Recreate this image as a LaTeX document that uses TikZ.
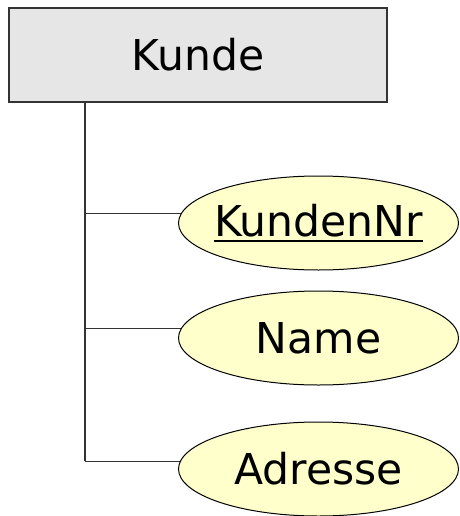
\documentclass[tikz,border=0pt]{standalone}
\usepackage{fontspec}
\setmainfont{DejaVu Sans}
\usetikzlibrary{shapes.geometric,backgrounds}
\definecolor{entityfill}{HTML}{E6E6E6}
\definecolor{attrfill}{HTML}{FFFFCC}
\definecolor{linegray}{HTML}{333333}
\newcommand\keyul[1]{\setbox0\hbox{#1}\rlap{\rule[-4.8pt]{\wd0}{1.8pt}}\box0}
\tikzset{every node/.style={font=\fontsize{42.5}{50}\selectfont},line cap=round,line join=round,
  entity/.style={draw=linegray,line width=1.5pt,fill=entityfill,minimum width=378pt,minimum height=94pt,inner sep=0pt},
  attr/.style={ellipse,draw=black,line width=1pt,fill=attrfill,minimum width=280pt,minimum height=94pt,inner sep=0pt},
  link/.style={draw=linegray,line width=1pt}}

\begin{document}
\begin{tikzpicture}[x=1pt,y=-1pt]
  \path[use as bounding box] (0,0) rectangle (459,516);
  \node[entity] (kunde) at (198,55) {Kunde};
  \node[attr,inner xsep=-10pt] (nr) at (318.5,223) {\keyul{KundenNr}};
  \node[attr] (name) at (318.5,338) {Name};
  \node[attr] (adresse) at (318.5,469) {Adresse};
  \coordinate (j1) at (85,213);
  \coordinate (j2) at (85,328);
  \coordinate (j3) at (85,461);
  \begin{scope}[on background layer]
    \draw[link,line width=1.5pt] (kunde.south -| j3) -- (j3);
    \draw[link] (j1) -- (j1 -| nr.center);
    \draw[link] (j2) -- (j2 -| name.center);
    \draw[link] (j3) -- (j3 -| adresse.center);
  \end{scope}
\end{tikzpicture}
\end{document}
